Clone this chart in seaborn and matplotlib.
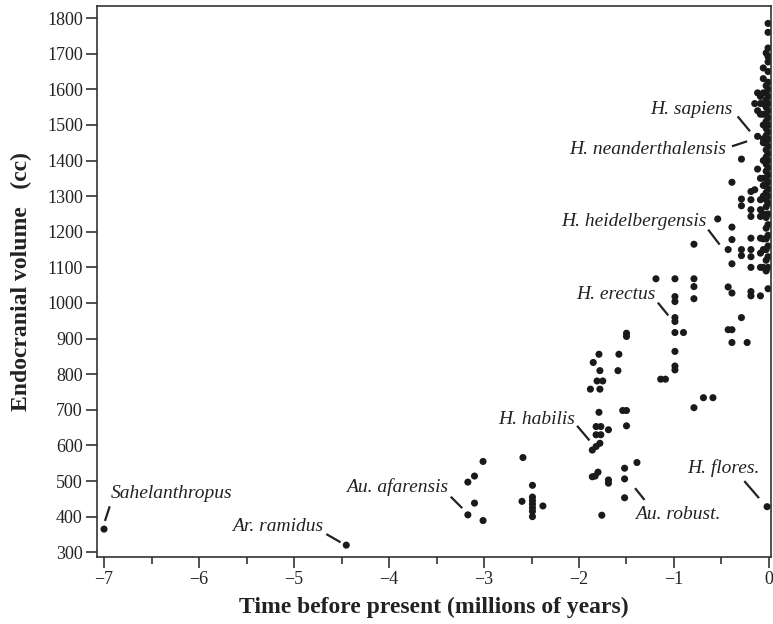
import numpy as np
import pandas as pd
import matplotlib
matplotlib.use("Agg")
import matplotlib.pyplot as plt
import seaborn as sns

# ==========================================
# Data: fossil hominin endocranial volumes
# time in millions of years before present (negative), volume in cc
# ==========================================
early_time = [-7.0, -4.45]
early_vol = [365, 320]

afarensis_time = [-3.01, -3.10, -3.17, -3.10, -3.17, -3.01,
                  -2.59, -2.49, -2.60, -2.49, -2.49, -2.49, -2.49, -2.49, -2.49, -2.38]
afarensis_vol = [555, 514, 497, 438, 405, 389,
                 566, 488, 443, 455, 445, 435, 425, 415, 400, 430]

habilis_time = [-1.76, -1.86, -1.83, -1.80, -1.69, -1.69, -1.52, -1.52, -1.52, -1.39,
                -1.86, -1.82, -1.78, -1.82, -1.77, -1.82, -1.77, -1.69, -1.79,
                -1.88, -1.78, -1.81, -1.75, -1.78, -1.59, -1.79, -1.58, -1.85,
                -1.54, -1.50, -1.50, -1.50, -1.50]
habilis_vol = [404, 512, 514, 525, 503, 494, 536, 506, 453, 552,
               587, 597, 606, 630, 630, 653, 653, 644, 693,
               758, 758, 781, 781, 810, 810, 856, 856, 833,
               698, 698, 655, 906, 915]

erectus_time = [-1.14, -1.09, -0.99, -0.99, -0.99, -0.99, -0.90, -0.99, -0.99,
                -0.99, -0.99, -0.99, -1.19, -0.79, -0.79, -0.79, -0.79, -0.79,
                -0.69, -0.59]
erectus_vol = [786, 786, 812, 823, 864, 917, 917, 948, 959,
               1004, 1018, 1068, 1068, 1012, 1046, 1068, 1165, 706,
               734, 734]

late_time = [-0.54, -0.43, -0.43, -0.43, -0.39, -0.39, -0.39, -0.39, -0.39, -0.39, -0.39,
             -0.29, -0.29, -0.29, -0.29, -0.29, -0.29, -0.23,
             -0.19, -0.19, -0.19, -0.19, -0.19, -0.19, -0.19, -0.19, -0.19, -0.19,
             -0.15, -0.15, -0.12, -0.12, -0.12, -0.12]
late_vol = [1236, 925, 1045, 1150, 889, 925, 1028, 1110, 1178, 1213, 1339,
            959, 1133, 1150, 1273, 1292, 1404, 889,
            1032, 1020, 1100, 1130, 1150, 1182, 1243, 1262, 1290, 1313,
            1318, 1560, 1376, 1468, 1540, 1590]

recent_time = ([-0.09] * 11 + [-0.06] * 16 + [-0.03] * 25 + [-0.01] * 31 + [-0.02])
recent_vol = [1020, 1100, 1140, 1182, 1243, 1262, 1290, 1350, 1530, 1560, 1580,
              1100, 1150, 1180, 1250, 1300, 1330, 1350, 1400, 1450, 1461, 1500,
              1530, 1560, 1590, 1630, 1660,
              1090, 1120, 1150, 1180, 1210, 1240, 1270, 1290, 1310, 1330, 1350,
              1370, 1390, 1410, 1430, 1450, 1470, 1490, 1510, 1530, 1550, 1570,
              1590, 1610, 1702,
              1040, 1100, 1130, 1160, 1190, 1220, 1250, 1280, 1300, 1320, 1340,
              1360, 1380, 1400, 1420, 1440, 1460, 1480, 1500, 1520, 1540, 1560,
              1580, 1600, 1620, 1650, 1677, 1692, 1716, 1760, 1785,
              428]

df = pd.DataFrame({
    "time": early_time + afarensis_time + habilis_time + erectus_time + late_time + recent_time,
    "volume": early_vol + afarensis_vol + habilis_vol + erectus_vol + late_vol + recent_vol,
})

# label, text (x, y), alignment, line start, line end
labels = [
    ("Sahelanthropus", (-6.93, 466), "left", (-6.99, 388), (-6.94, 429)),
    ("Ar. ramidus", (-4.69, 372), "right", (-4.66, 351), (-4.51, 328)),
    ("Au. afarensis", (-3.38, 484), "right", (-3.35, 456), (-3.23, 424)),
    ("H. habilis", (-2.04, 674), "right", (-2.02, 655), (-1.89, 614)),
    ("H. erectus", (-1.19, 1023), "right", (-1.17, 1001), (-1.06, 965)),
    ("H. heidelbergensis", (-0.656, 1229), "right", (-0.64, 1206), (-0.52, 1164)),
    ("H. neanderthalensis", (-0.45, 1432), "right", (-0.39, 1440), (-0.23, 1454)),
    ("H. sapiens", (-0.38, 1543), "right", (-0.33, 1524), (-0.20, 1482)),
    ("H. flores.", (-0.095, 536), "right", (-0.26, 500), (-0.105, 452)),
    ("Au. robust.", (-1.41, 405), "left", (-1.41, 480), (-1.31, 447)),
]

# ==========================================
# Plot
# ==========================================
sns.set_style("ticks")
plt.rcParams["font.family"] = ["Liberation Serif", "DejaVu Serif"]
plt.rcParams["axes.unicode_minus"] = True

fig = plt.figure(figsize=(7.73, 6.24), dpi=100)
ax = fig.add_axes([0.1251, 0.1079, 0.8723, 0.8825])

sns.scatterplot(data=df, x="time", y="volume", color="#1a1a1a",
                s=26, edgecolor="none", linewidth=0, ax=ax, legend=False)

for text, (tx, ty), ha, (x0, y0), (x1, y1) in labels:
    ax.text(tx, ty, text, ha=ha, va="center", fontsize=14, style="italic",
            color="#222222")
    ax.plot([x0, x1], [y0, y1], color="#222222", lw=1.6, solid_capstyle="butt")

ax.set_xlim(-7.077, 0.021)
ax.set_ylim(287.6, 1834)
ax.set_xticks(np.arange(-7, 1, 1))
ax.set_xticks(np.arange(-6.5, 0, 1), minor=True)
ax.set_yticks(np.arange(300, 1900, 100))

ax.tick_params(axis="both", which="major", direction="out", length=8, width=1.2,
               color="#333333", labelsize=13, labelcolor="#222222", pad=2)
ax.tick_params(axis="x", which="minor", direction="out", length=5, width=1.2,
               color="#333333")

for side in ["left", "right", "top", "bottom"]:
    ax.spines[side].set_visible(True)
    ax.spines[side].set_color("#333333")
    ax.spines[side].set_linewidth(1.2)

ax.set_xlabel("Time before present (millions of years)", fontsize=17,
              fontweight="bold", color="#222222", labelpad=7)
ax.set_ylabel("Endocranial volume   (cc)", fontsize=17, fontweight="bold",
              color="#222222", labelpad=11)

fig.savefig("out.png", dpi=100)
plt.close(fig)
